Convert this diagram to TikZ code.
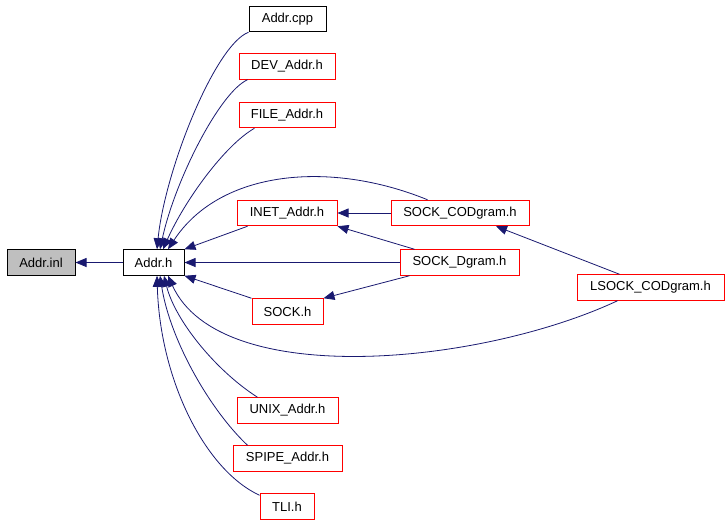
\documentclass[tikz,border=0pt]{standalone}
\usepackage{fontspec}
\setmainfont{Liberation Sans}
\usetikzlibrary{arrows.meta}
\definecolor{edgeblue}{HTML}{191970}
\definecolor{boxgray}{HTML}{BFBFBF}
\tikzset{
  filebox/.style={draw=red, line width=1pt, inner sep=0pt, minimum height=25.5pt,
    font=\fontsize{13}{15}\selectfont, text=black},
  blackbox/.style={filebox, draw=black},
  edge/.style={draw=edgeblue, line width=0.8pt, -{Triangle[length=11pt,width=9pt]}},
}
\begin{document}
\begin{tikzpicture}[x=1pt,y=-1pt]
\useasboundingbox (0,0) rectangle (728,523);
% nodes
\node[blackbox, fill=boxgray, minimum width=68pt] (inl) at (41,262.5) {Addr.inl};
\node[blackbox, minimum width=61pt] (addrh) at (153.5,262.5) {Addr.h};
\node[blackbox, minimum width=77pt] (cpp) at (287.5,19) {Addr.cpp};
\node[filebox, minimum width=96pt] (dev) at (287,66.5) {DEV\_Addr.h};
\node[filebox, minimum width=96pt] (file) at (287,115) {FILE\_Addr.h};
\node[filebox, minimum width=100pt] (inet) at (287,213) {INET\_Addr.h};
\node[filebox, minimum width=138pt] (sockcod) at (460,213) {SOCK\_CODgram.h};
\node[filebox, minimum width=119pt] (sockd) at (459.5,262.5) {SOCK\_Dgram.h};
\node[filebox, minimum width=147pt] (lsock) at (650.5,287.5) {LSOCK\_CODgram.h};
\node[filebox, minimum width=71pt] (sock) at (287.5,311.5) {SOCK.h};
\node[filebox, minimum width=101pt] (unix) at (287.5,410.5) {UNIX\_Addr.h};
\node[filebox, minimum width=109pt] (spipe) at (287.5,458.5) {SPIPE\_Addr.h};
\node[filebox, minimum width=54pt] (tli) at (287,506.5) {TLI.h};
% edges
\draw[edge] (addrh.west) -- (inl.east);
\draw[edge] (cpp.south west) .. controls (215,45) and (165,170) .. ([xshift=3.5pt]addrh.north);
\draw[edge] ([xshift=9pt]dev.south west) .. controls (220,92) and (175,180) .. ([xshift=6.5pt]addrh.north);
\draw[edge] ([xshift=16pt]file.south west) .. controls (225,145) and (185,200) .. ([xshift=9.5pt]addrh.north);
\draw[edge] ([xshift=37pt]sockcod.north west) .. controls (330,160) and (220,170) .. ([xshift=14.5pt]addrh.north);
\draw[edge] ([xshift=11pt]inet.south west) -- (addrh.north east);
\draw[edge] (sockd.west) -- (addrh.east);
\draw[edge] (sock.north west) -- (addrh.south east);
\draw[edge] (sockcod.west) -- (inet.east);
\draw[edge] ([xshift=15pt]sockd.north west) -- (inet.south east);
\draw[edge] ([xshift=10pt]sockd.south west) -- (sock.north east);
\draw[edge] ([xshift=43pt]lsock.north west) -- ([xshift=36pt]sockcod.south);
\draw[edge] ([xshift=41pt]lsock.south west) .. controls (480,365) and (220,390) .. ([xshift=14.5pt]addrh.south);
\draw[edge] ([xshift=21pt]unix.north west) .. controls (215,370) and (175,320) .. ([xshift=10.5pt]addrh.south);
\draw[edge] ([xshift=15pt]spipe.north west) .. controls (210,410) and (170,340) .. ([xshift=6.5pt]addrh.south);
\draw[edge] ([yshift=-2pt]tli.north west) .. controls (205,470) and (160,380) .. ([xshift=3.5pt]addrh.south);
\end{tikzpicture}
\end{document}
